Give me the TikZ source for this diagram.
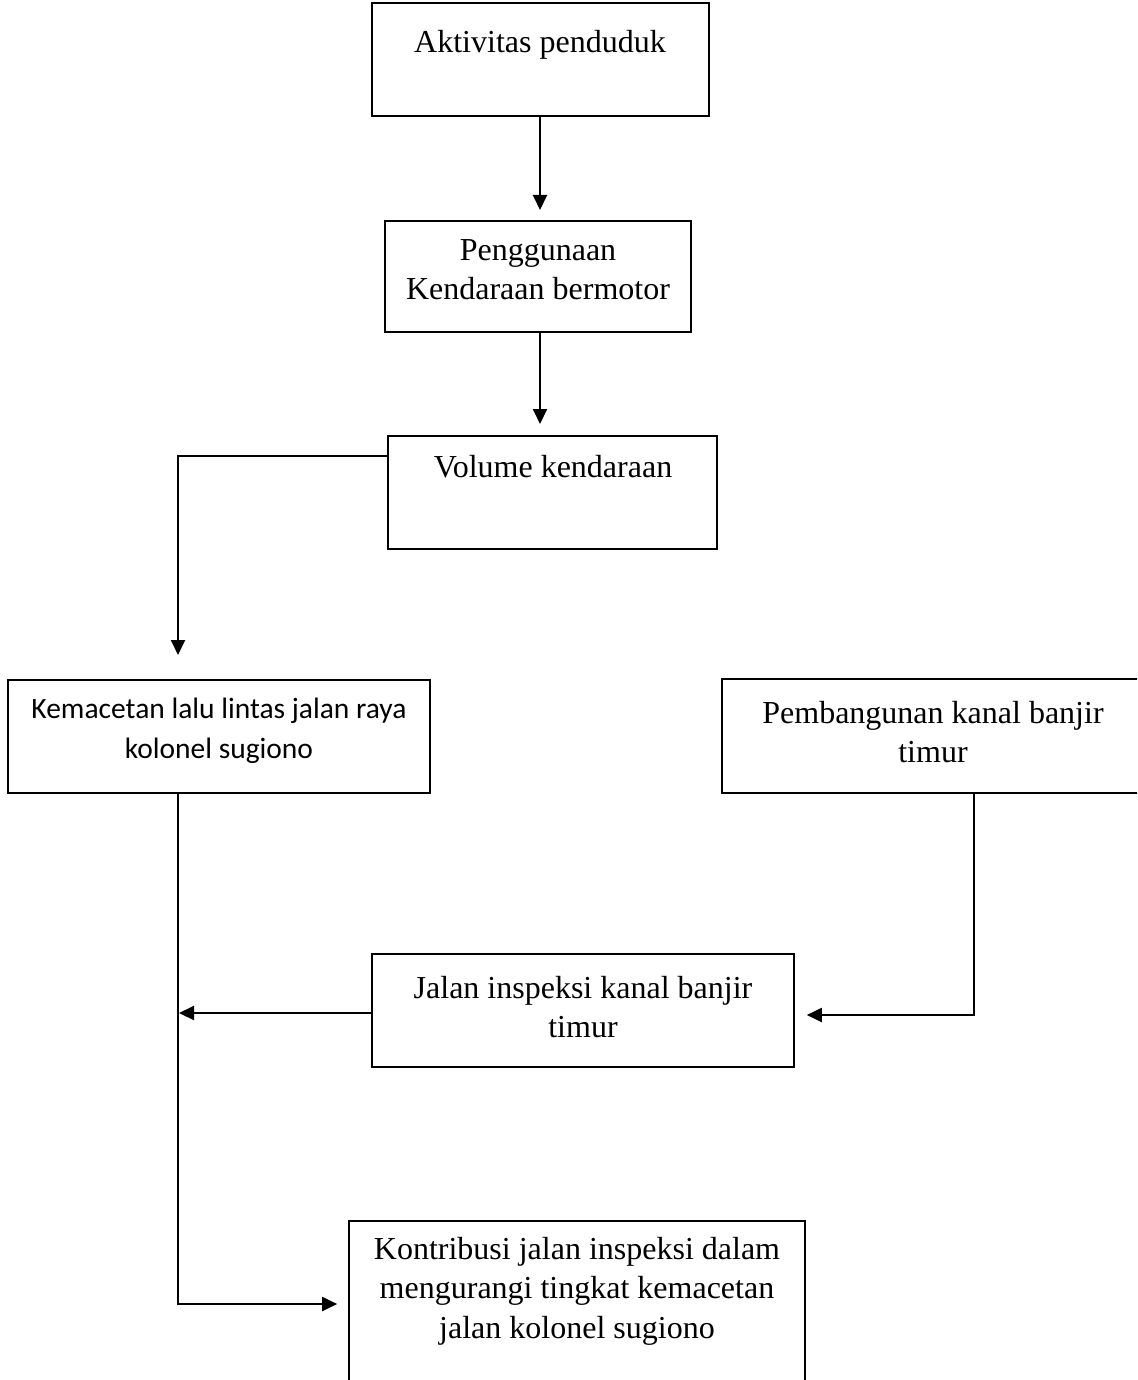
\documentclass[tikz,border=0pt]{standalone}
\usepackage{fontspec}
\setmainfont{Liberation Serif}
\newfontfamily\calibrifont{Carlito}
\usetikzlibrary{arrows.meta}
\begin{document}
\begin{tikzpicture}[x=1pt,y=-1pt,
  box/.style={draw,line width=1.6pt,rectangle,inner sep=0pt},
  txt/.style={align=center,inner sep=0pt,font=\fontsize{32}{39.5}\selectfont},
  ctxt/.style={align=center,inner sep=0pt,font=\calibrifont\fontsize{29.5}{39.5}\selectfont},
  arr/.style={line width=2pt,-{Triangle[length=15pt,width=14pt]}},
  ln/.style={line width=2pt}]
\useasboundingbox (0,0) rectangle (1137,1380);
\begin{scope}
\clip (0,0) rectangle (1137,1380);
\node[box,minimum width=337pt,minimum height=113pt] (b1) at (540.5,59.5) {};
\node[box,minimum width=306pt,minimum height=111pt] (b2) at (538,276.5) {};
\node[box,minimum width=329pt,minimum height=113pt] (b3) at (552.5,492.5) {};
\node[box,minimum width=422pt,minimum height=113pt] (b4) at (219,736.5) {};
\node[box,minimum width=430pt,minimum height=114pt] (b5) at (937,736) {};
\node[box,minimum width=422pt,minimum height=113pt] (b6) at (583,1010.5) {};
\node[box,minimum width=456pt,minimum height=180pt] (b7) at (577,1311) {};
\end{scope}
\node[txt] (t1) at (540,45) {Aktivitas penduduk};
\node[txt] (t2) at (538,269.5) {Penggunaan\\Kendaraan bermotor};
\node[txt] (t3) at (553,467) {Volume kendaraan};
\node[ctxt] (t4) at (219,731) {Kemacetan lalu lintas jalan raya\\kolonel sugiono};
\node[txt] (t5) at (933,732) {Pembangunan kanal banjir\\timur};
\node[txt] (t6) at (583,1007) {Jalan inspeksi kanal banjir\\timur};
\node[txt] (t7) at (577,1291) {Kontribusi jalan inspeksi dalam\\mengurangi tingkat kemacetan\\jalan kolonel sugiono};
\coordinate (k1) at (178,680);
\coordinate (k2) at (178,793);
\coordinate (p1) at (974,793);
\draw[arr,shorten >=11pt] (540,116) -- (540,221);
\draw[arr,shorten >=12pt] (540,332) -- (540,436);
\draw[arr,shorten >=25pt] ([yshift=36.5pt]b3.west) -| (k1);
\draw[arr,shorten >=11pt] (k2) |- ([yshift=7pt]b7.west);
\draw[arr,shorten >=1pt] ([yshift=-2.5pt]b6.west) -- ([yshift=-2.5pt]b6.west -| k2);
\draw[arr,shorten >=12pt] (p1) |- ([yshift=-4.5pt]b6.east);
\end{tikzpicture}
\end{document}
